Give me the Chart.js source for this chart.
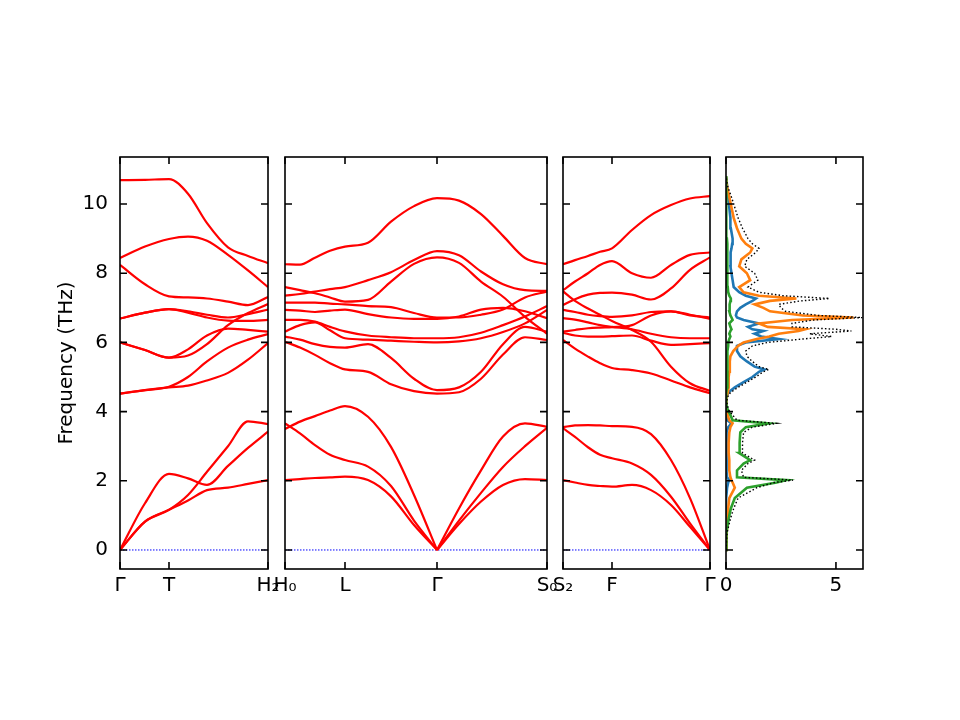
<!DOCTYPE html>
<html>
<head>
<meta charset="utf-8">
<script src="https://cdn.jsdelivr.net/npm/chart.js@4.4.0/dist/chart.umd.min.js"></script>
<style>
body { margin: 0; background: #fff; }
#wrap { position: relative; width: 960px; height: 720px; }
canvas { position: absolute; left: 0; top: 0; }
</style>
</head>
<body>
<div id="wrap">
<canvas id="p1" width="960" height="720"></canvas>
<canvas id="p2" width="960" height="720"></canvas>
<canvas id="p3" width="960" height="720"></canvas>
<canvas id="p4" width="960" height="720"></canvas>
</div>
<script>
// frequency axis
const freqTicks = [0, 2, 4, 6, 8, 10];
const freqMin = -0.55, freqMax = 11.36;

// segment Γ - T - H2 (path distance)
const p1K = [0, 25, 49, 68, 87, 108, 128, 148];
const p1Sym = [0, 49, 148];
const p1Labels = ['Γ', 'T', 'H₂'];
const p1Bands = [
  [10.69, 10.70, 10.72, 10.3, 9.45, 8.75, 8.5, 8.29],
  [8.44, 8.77, 8.99, 9.06, 8.94, 8.53, 8.08, 7.6],
  [8.24, 7.68, 7.33, 7.3, 7.27, 7.18, 7.08, 7.31],
  [6.69, 6.86, 6.96, 6.9, 6.8, 6.72, 6.82, 6.95],
  [6.69, 6.86, 6.96, 6.86, 6.72, 6.63, 6.62, 6.65],
  [6.0, 5.78, 5.56, 5.8, 6.2, 6.4, 6.36, 6.31],
  [6.0, 5.78, 5.56, 5.62, 5.95, 6.5, 6.85, 7.11],
  [4.52, 4.62, 4.72, 5.0, 5.45, 5.85, 6.08, 6.24],
  [4.52, 4.62, 4.7, 4.75, 4.9, 5.12, 5.5, 5.98],
  [0, 1.35, 2.2, 2.07, 1.88, 2.43, 2.95, 3.42],
  [0, 0.82, 1.16, 1.59, 2.26, 3.0, 3.72, 3.64],
  [0, 0.82, 1.16, 1.43, 1.73, 1.8, 1.91, 2.02]
];

// segment H0 - L - Γ - S0
const p2K = [0, 15, 30, 45, 60, 83, 106, 129, 152, 174, 196, 218, 240, 262];
const p2Sym = [0, 60, 152, 262];
const p2Labels = ['H₀', 'L', 'Γ', 'S₀'];
const p2Gamma = 8;
const p2Bands = [
  [8.26, 8.25, 8.45, 8.65, 8.77, 8.88, 9.49, 9.94, 10.17, 10.1, 9.71, 9.08, 8.44, 8.26],
  [7.35, 7.4, 7.47, 7.54, 7.6, 7.8, 8.03, 8.38, 8.64, 8.52, 8.05, 7.68, 7.51, 7.49],
  [7.6, 7.51, 7.42, 7.3, 7.18, 7.23, 7.76, 8.27, 8.46, 8.3, 7.76, 7.32, 6.74, 6.25],
  [7.15, 7.15, 7.15, 7.12, 7.1, 7.05, 7.02, 6.85, 6.72, 6.72, 6.8, 6.95, 7.3, 7.47],
  [6.94, 6.92, 6.88, 6.92, 6.95, 6.82, 6.72, 6.68, 6.68, 6.75, 6.95, 7.0, 6.9, 6.7],
  [6.65, 6.65, 6.6, 6.45, 6.32, 6.2, 6.15, 6.12, 6.12, 6.15, 6.28, 6.5, 6.75, 7.05],
  [6.31, 6.5, 6.58, 6.35, 6.12, 6.08, 6.05, 6.02, 6.0, 6.03, 6.12, 6.3, 6.55, 6.94],
  [6.17, 6.08, 5.95, 5.87, 5.85, 5.95, 5.55, 4.95, 4.62, 4.7, 5.15, 5.95, 6.45, 6.31],
  [6.02, 5.85, 5.64, 5.4, 5.22, 5.15, 4.79, 4.59, 4.52, 4.56, 4.95, 5.65, 6.15, 6.07],
  [3.5, 3.71, 3.87, 4.03, 4.16, 3.85, 2.98, 1.59, 0, 1.2, 2.3, 3.28, 3.66, 3.56],
  [3.66, 3.37, 3.03, 2.75, 2.6, 2.41, 1.85, 0.85, 0, 0.85, 1.65, 2.4, 3.0, 3.53],
  [2.02, 2.05, 2.08, 2.1, 2.12, 2.02, 1.55, 0.72, 0, 0.75, 1.4, 1.88, 2.05, 2.02]
];

// segment S2 - F - Γ
const p3K = [0, 12, 25, 37, 49, 69, 88, 108, 127, 147];
const p3Sym = [0, 49, 147];
const p3Labels = ['S₂', 'F', 'Γ'];
const p3Bands = [
  [8.26, 8.38, 8.5, 8.62, 8.72, 9.25, 9.68, 9.97, 10.16, 10.23],
  [7.51, 7.76, 8.0, 8.24, 8.35, 8.0, 7.87, 8.24, 8.53, 8.6],
  [7.08, 7.25, 7.38, 7.43, 7.44, 7.38, 7.24, 7.56, 8.1, 8.46],
  [7.48, 7.2, 6.98, 6.8, 6.62, 6.36, 6.02, 5.3, 4.82, 4.6],
  [6.07, 5.82, 5.59, 5.4, 5.26, 5.2, 5.1, 4.9, 4.7, 4.53],
  [6.94, 6.88, 6.8, 6.76, 6.74, 6.78, 6.88, 6.9, 6.78, 6.72],
  [6.7, 6.66, 6.58, 6.5, 6.45, 6.38, 6.25, 6.15, 6.12, 6.12],
  [6.31, 6.36, 6.41, 6.43, 6.44, 6.5, 6.78, 6.9, 6.8, 6.68],
  [6.28, 6.2, 6.17, 6.17, 6.18, 6.2, 6.05, 5.93, 5.95, 5.98],
  [3.55, 3.6, 3.61, 3.6, 3.58, 3.56, 3.35, 2.6, 1.5, 0],
  [3.52, 3.27, 2.97, 2.75, 2.65, 2.5, 2.17, 1.54, 0.77, 0],
  [2.02, 1.95, 1.88, 1.85, 1.83, 1.88, 1.73, 1.3, 0.67, 0]
];

// density of states
const dosFreq = [0, 0.5, 0.9, 1.2, 1.5, 1.8, 1.95, 2.02, 2.1, 2.3, 2.5, 2.6, 2.8, 3.1, 3.4, 3.55, 3.66, 3.75, 3.9, 4.05,
  4.2, 4.4, 4.55, 4.7, 4.85, 5.0, 5.15, 5.22, 5.3, 5.45, 5.6, 5.75, 5.9, 6.0, 6.1, 6.17, 6.25, 6.33, 6.38, 6.45,
  6.55, 6.65, 6.72, 6.78, 6.9, 7.0, 7.1, 7.2, 7.27, 7.35, 7.45, 7.6, 7.8, 8.0, 8.2, 8.4, 8.6, 8.72, 8.85, 9.0,
  9.3, 9.6, 9.9, 10.2, 10.5, 10.8];
const dosTotal = [0, 0.05, 0.2, 0.35, 0.55, 1.4, 2.2, 3.05, 0.8, 0.7, 1.0, 1.3, 0.75, 0.75, 0.8, 1.2, 2.3, 0.5, 0.3, 0.12,
  0.05, 0.05, 0.2, 0.55, 0.95, 1.35, 1.7, 1.95, 1.5, 1.2, 0.95, 0.9, 1.2, 1.9, 3.5, 4.8, 3.8, 5.7, 5.0, 3.0,
  3.0, 4.0, 6.2, 4.2, 2.7, 2.5, 2.4, 3.4, 4.7, 2.6, 1.5, 1.0, 1.45, 1.3, 0.85, 0.95, 1.35, 1.5, 1.2, 1.0,
  0.75, 0.55, 0.4, 0.25, 0.08, 0];
const dosBlue = [0, 0, 0, 0.01, 0.02, 0.05, 0.1, 0.15, 0.05, 0.02, 0.03, 0.03, 0.02, 0.02, 0.03, 0.1, 0.25, 0.05, 0.02, 0.01,
  0.01, 0.02, 0.1, 0.4, 0.8, 1.2, 1.5, 1.75, 1.3, 0.95, 0.65, 0.5, 0.5, 0.9, 2.4, 1.6, 1.3, 1.7, 1.2, 1.0,
  1.5, 0.8, 0.5, 0.45, 0.5, 0.65, 0.9, 1.2, 1.36, 0.9, 0.6, 0.35, 0.3, 0.25, 0.2, 0.2, 0.22, 0.25, 0.28, 0.3,
  0.22, 0.2, 0.15, 0.1, 0.05, 0];
const dosOrange = [0, 0.03, 0.08, 0.1, 0.15, 0.4, 0.3, 0.25, 0.2, 0.15, 0.15, 0.15, 0.12, 0.12, 0.15, 0.2, 0.3, 0.15, 0.08, 0.03,
  0.02, 0.02, 0.08, 0.12, 0.12, 0.12, 0.15, 0.17, 0.17, 0.18, 0.2, 0.33, 0.55, 0.8, 1.4, 1.97, 2.4, 3.3, 3.6, 1.9,
  1.5, 3.0, 5.8, 3.5, 2.0, 1.7, 1.3, 2.0, 3.2, 1.5, 0.8, 0.6, 1.1, 0.95, 0.6, 0.7, 1.1, 1.2, 0.9, 0.7,
  0.5, 0.35, 0.25, 0.15, 0.05, 0];
const dosGreen = [0, 0.02, 0.12, 0.22, 0.4, 0.95, 2.3, 2.75, 0.5, 0.5, 0.8, 1.1, 0.6, 0.62, 0.65, 0.9, 1.95, 0.3, 0.2, 0.08,
  0.02, 0, 0.02, 0.05, 0.05, 0.06, 0.06, 0.06, 0.06, 0.07, 0.07, 0.08, 0.1, 0.1, 0.15, 0.2, 0.15, 0.2, 0.25, 0.2,
  0.15, 0.3, 0.25, 0.2, 0.15, 0.15, 0.18, 0.2, 0.22, 0.15, 0.1, 0.08, 0.08, 0.07, 0.06, 0.06, 0.05, 0.05, 0.05, 0.04,
  0.03, 0.02, 0.02, 0.01, 0, 0];
const dosTicks = [0, 5];
const dosLabels = ['0', '5'];
const dosMax = 6.23;

Chart.defaults.font.family = 'DejaVu Sans';
Chart.defaults.font.size = 20;
Chart.defaults.color = '#000';

const yAxisWidth = 69;

// box and inward ticks like the matplotlib frame
const frameTicks = {
  id: 'frameTicks',
  afterDatasetsDraw(chart, args, opts) {
    const ctx = chart.ctx, a = chart.chartArea;
    const x = chart.scales.x, y = chart.scales.y;
    ctx.save();
    ctx.strokeStyle = '#000';
    ctx.lineWidth = 1.6;
    ctx.beginPath();
    opts.yTicks.forEach(v => {
      const py = y.getPixelForValue(v);
      ctx.moveTo(a.left, py); ctx.lineTo(a.left + 7, py);
      ctx.moveTo(a.right, py); ctx.lineTo(a.right - 7, py);
    });
    opts.xTicks.forEach(v => {
      const px = x.getPixelForValue(v);
      ctx.moveTo(px, a.bottom); ctx.lineTo(px, a.bottom - 7);
      ctx.moveTo(px, a.top); ctx.lineTo(px, a.top + 7);
    });
    ctx.stroke();
    ctx.strokeRect(a.left, a.top, a.right - a.left, a.bottom - a.top);
    ctx.restore();
  }
};

function lineSet(xs, ys, color, width) {
  return {
    data: xs.map((x, i) => ({ x: x, y: ys[i] })),
    borderColor: color,
    borderWidth: width,
    pointRadius: 0,
    fill: false,
    cubicInterpolationMode: 'monotone'
  };
}

function bandSets(ks, bands, splitAt) {
  const sets = [];
  bands.forEach(b => {
    if (splitAt != null && b[splitAt] === 0) {
      sets.push(lineSet(ks.slice(0, splitAt + 1), b.slice(0, splitAt + 1), '#ff0000', 2.2));
      sets.push(lineSet(ks.slice(splitAt), b.slice(splitAt), '#ff0000', 2.2));
    } else {
      sets.push(lineSet(ks, b, '#ff0000', 2.2));
    }
  });
  const last = ks[ks.length - 1];
  sets.push({
    data: [{ x: 0, y: 0 }, { x: last, y: 0 }],
    borderColor: '#0000ff', borderWidth: 1, borderDash: [1.5, 1.5], pointRadius: 0
  });
  return sets;
}

function dosSet(vals, color, width, dash) {
  return {
    data: dosFreq.map((f, i) => ({ x: vals[i], y: f })),
    borderColor: color,
    borderWidth: width,
    borderDash: dash || [],
    pointRadius: 0,
    fill: false,
    tension: 0
  };
}

function panel(id, left, right, xMax, sym, labels, datasets, withY) {
  new Chart(document.getElementById(id), {
    type: 'line',
    data: { datasets: datasets },
    options: {
      responsive: false,
      animation: false,
      devicePixelRatio: 1,
      layout: { padding: { left: left - yAxisWidth, right: 960 - right, top: 157, bottom: 111 } },
      plugins: {
        legend: { display: false },
        tooltip: { enabled: false },
        frameTicks: { xTicks: sym, yTicks: freqTicks }
      },
      scales: {
        x: {
          type: 'linear', min: 0, max: xMax,
          grid: { display: false, drawTicks: false },
          border: { display: false },
          afterBuildTicks: s => { s.ticks = sym.map(v => ({ value: v })); },
          afterFit: s => { s.height = 40; },
          ticks: { autoSkip: false, maxRotation: 0, padding: 5, callback: (v, i) => labels[i] }
        },
        y: {
          type: 'linear', min: freqMin, max: freqMax,
          grid: { display: false, drawTicks: false },
          border: { display: false },
          afterBuildTicks: s => { s.ticks = freqTicks.map(v => ({ value: v })); },
          afterFit: s => { s.width = yAxisWidth; },
          ticks: { display: withY, padding: 12, callback: v => String(v) },
          title: { display: withY, text: 'Frequency (THz)', padding: { top: 4, bottom: 4 } }
        }
      }
    },
    plugins: [frameTicks]
  });
}

panel('p1', 120, 268, 148, p1Sym, p1Labels, bandSets(p1K, p1Bands, null), true);
panel('p2', 285, 547, 262, p2Sym, p2Labels, bandSets(p2K, p2Bands, p2Gamma), false);
panel('p3', 563, 710, 147, p3Sym, p3Labels, bandSets(p3K, p3Bands, null), false);
panel('p4', 726, 863, dosMax, dosTicks, dosLabels, [
  dosSet(dosTotal, '#000000', 1.4, [1.5, 2.2]),
  dosSet(dosGreen, '#2ca02c', 2.6),
  dosSet(dosOrange, '#ff7f0e', 2.6),
  dosSet(dosBlue, '#1f77b4', 2.6)
], false);
</script>
</body>
</html>
